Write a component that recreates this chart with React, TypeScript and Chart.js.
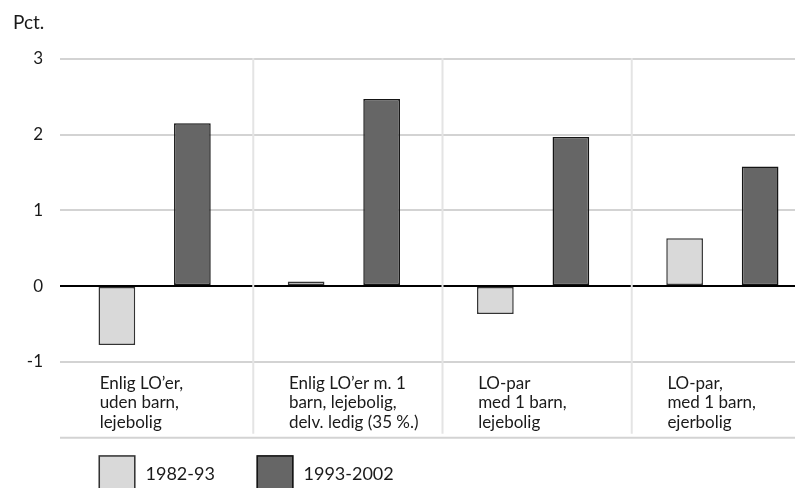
import React, { useEffect, useRef } from "react";
import { Chart, registerables } from "chart.js";

Chart.register(...registerables);

const categories: string[][] = [
  ["Enlig LO’er,", "uden barn,", "lejebolig"],
  ["Enlig LO’er m. 1", "barn, lejebolig,", "delv. ledig (35 %.)"],
  ["LO-par", "med 1 barn,", "lejebolig"],
  ["LO-par,", "med 1 barn,", "ejerbolig"],
];
const seriesNames = ["1982-93", "1993-2002"];
const series1982 = [-0.78, 0.06, -0.37, 0.63];
const series1993 = [2.15, 2.47, 1.97, 1.58];
const yTicks = [-1, 0, 1, 2, 3];
const yTitle = "Pct.";

const FONT = "Lato";
const TEXT = "#1a1a1a";

const decorPlugin = {
  id: "decor",
  beforeDatasetsDraw(chart: any) {
    const { ctx, chartArea, scales } = chart;
    const x = scales.x;
    const step = x.getPixelForValue(1) - x.getPixelForValue(0);
    ctx.save();
    ctx.strokeStyle = "#e4e4e4";
    ctx.lineWidth = 2;
    for (let i = 0; i < categories.length - 1; i++) {
      const px = x.getPixelForValue(i) + step / 2 + 4;
      ctx.beginPath();
      ctx.moveTo(px, chartArea.top - 1);
      ctx.lineTo(px, x.bottom - 4);
      ctx.stroke();
    }
    ctx.strokeStyle = "#d3d3d3";
    ctx.beginPath();
    ctx.moveTo(chartArea.left, x.bottom);
    ctx.lineTo(chart.width, x.bottom);
    ctx.stroke();
    ctx.restore();
  },
  afterDraw(chart: any) {
    const { ctx, scales } = chart;
    const x = scales.x;
    const bar: any = chart.getDatasetMeta(0).data[0];
    const startX = bar.x - bar.width / 2;
    const top = x.bottom + 17.5;
    const size = 37;
    ctx.save();
    chart.data.datasets.forEach((ds: any, i: number) => {
      const bx = startX + i * 158;
      ctx.fillStyle = ds.backgroundColor;
      ctx.fillRect(bx, top, size, size);
      ctx.strokeStyle = ds.borderColor;
      ctx.lineWidth = 1.5;
      ctx.strokeRect(bx + 0.75, top + 0.75, size - 1.5, size - 1.5);
      ctx.fillStyle = TEXT;
      ctx.font = `18px ${FONT}`;
      ctx.textBaseline = "middle";
      ctx.textAlign = "left";
      ctx.fillText(ds.label, bx + size + 10, top + size / 2);
    });
    ctx.restore();
  },
};

export default function App() {
  const ref = useRef<HTMLCanvasElement | null>(null);

  useEffect(() => {
    if (!ref.current) return;
    const chart = new Chart(ref.current, {
      type: "bar",
      data: {
        labels: categories,
        datasets: [
          {
            label: seriesNames[0],
            data: series1982,
            backgroundColor: "#d9d9d9",
            borderColor: "#333333",
            borderWidth: 1.5,
            borderSkipped: false,
          },
          {
            label: seriesNames[1],
            data: series1993,
            backgroundColor: "#666666",
            borderColor: "#151515",
            borderWidth: 1.5,
            borderSkipped: false,
          },
        ],
      },
      options: {
        responsive: false,
        animation: false,
        events: [],
        layout: { padding: { left: 5, right: 20, top: 0, bottom: 70.3 } },
        datasets: {
          bar: { categoryPercentage: 0.798, barPercentage: 0.486 },
        },
        plugins: {
          legend: { display: false },
          tooltip: { enabled: false },
          title: {
            display: true,
            text: yTitle,
            align: "start",
            color: TEXT,
            font: { family: FONT, size: 19, weight: "normal", lineHeight: 1.2 },
            padding: { top: 3, bottom: 25.2 },
          },
        },
        scales: {
          x: {
            grid: { display: false },
            border: { display: false },
            ticks: {
              align: "start",
              labelOffset: -55,
              padding: 4,
              color: TEXT,
              autoSkip: false,
              maxRotation: 0,
              font: { family: FONT, size: 17, lineHeight: 1.14 },
            },
            afterFit: (s: any) => {
              s.height = 76;
            },
          },
          y: {
            min: yTicks[0],
            max: yTicks[yTicks.length - 1],
            border: { display: false },
            grid: {
              drawTicks: false,
              color: (c: any) => (c.tick && c.tick.value === 0 ? "#000000" : "#d3d3d3"),
              lineWidth: 2,
            },
            ticks: {
              stepSize: 1,
              padding: 17,
              color: TEXT,
              font: { family: FONT, size: 17 },
            },
            afterFit: (s: any) => {
              s.width = 47;
            },
          },
        },
      },
      plugins: [decorPlugin],
    });
    return () => chart.destroy();
  }, []);

  return (
    <div
      style={{
        position: "fixed",
        left: 8,
        top: 8,
        width: 787,
        height: 480,
        overflow: "hidden",
        background: "#fff",
      }}
    >
      <canvas ref={ref} width={829} height={500} style={{ display: "block" }} />
    </div>
  );
}
